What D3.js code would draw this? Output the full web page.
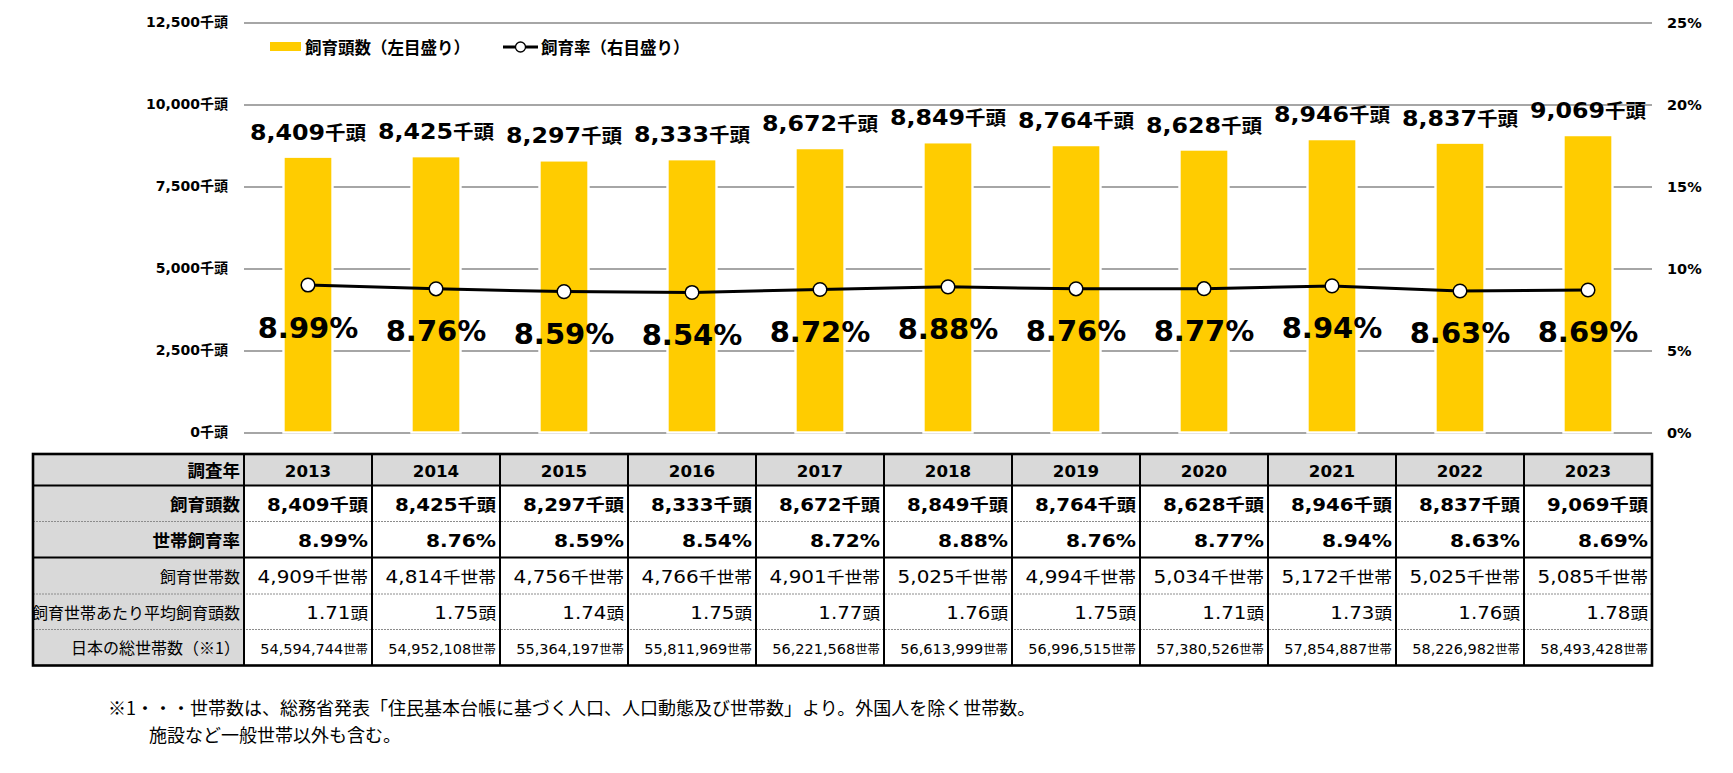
<!DOCTYPE html>
<html><head><meta charset="utf-8">
<script src="https://cdn.jsdelivr.net/npm/d3@7"></script>
<style>body{margin:0;background:#fff;overflow:hidden}</style>
</head><body>
<svg id="c" width="1733" height="773"></svg>
<script>
// ---------- data ----------
const years = ["2013","2014","2015","2016","2017","2018","2019","2020","2021","2022","2023"];
const heads = [8409,8425,8297,8333,8672,8849,8764,8628,8946,8837,9069];           // 千頭
const rates = [8.99,8.76,8.59,8.54,8.72,8.88,8.76,8.77,8.94,8.63,8.69];           // %
const households = [4909,4814,4756,4766,4901,5025,4994,5034,5172,5025,5085];     // 千世帯
const avgHeads = [1.71,1.75,1.74,1.75,1.77,1.76,1.75,1.71,1.73,1.76,1.78];        // 頭
const totalHouseholds = [54594744,54952108,55364197,55811969,56221568,56613999,56996515,57380526,57854887,58226982,58493428];
const leftTicks = [0,2500,5000,7500,10000,12500];
const rightTicks = [0,5,10,15,20,25];
const seriesNames = ["飼育頭数（左目盛り）","飼育率（右目盛り）"];
const rowLabels = ["調査年","飼育頭数","世帯飼育率","飼育世帯数","飼育世帯あたり平均飼育頭数","日本の総世帯数（※1）"];
const footnotes = ["※1・・・世帯数は、総務省発表「住民基本台帳に基づく人口、人口動態及び世帯数」より。外国人を除く世帯数。","施設など一般世帯以外も含む。"];

// ---------- setup ----------
const LAT = "'DejaVu Sans','Noto Sans CJK JP',sans-serif";
const CJK = "'Noto Sans CJK JP','DejaVu Sans',sans-serif";
const YELLOW = "#FFCC00";
const svg = d3.select("#c");
svg.append("rect").attr("width",1733).attr("height",773).attr("fill","#fff");

const plotL = 244, plotR = 1652, plotT = 22.5, plotB = 432.5;
const x = d3.scaleBand().domain(years).range([plotL,plotR]).paddingInner(0.617).paddingOuter(0.3085);
const xCol = d3.scaleBand().domain(years).range([plotL,plotR]).padding(0);
const yL = d3.scaleLinear().domain([0,12500]).range([plotB,plotT]);
const yR = d3.scaleLinear().domain([0,25]).range([plotB,plotT]);
const fmt = d3.format(",");

// helper: text made of parts (tspans), with optional horizontal stretch
function label(g, px, py, parts, opt){
  const t = g.append("text")
    .attr("transform",`translate(${px},${py}) scale(${opt.sx||1},1)`)
    .attr("text-anchor",opt.anchor||"start")
    .attr("font-weight",opt.weight||"normal")
    .attr("fill","#000");
  parts.forEach(p=>{
    t.append("tspan").attr("font-family",p.f||LAT).attr("font-size",p.s).text(p.t);
  });
  return t;
}

// ---------- axes / gridlines ----------
const gL = svg.append("g").attr("transform",`translate(${plotL},0)`)
  .call(d3.axisLeft(yL).tickValues(leftTicks).tickSize(-(plotR-plotL)).tickPadding(16)
        .tickFormat(d=>fmt(d)+"千頭"));
gL.select(".domain").remove();
gL.selectAll(".tick line").attr("stroke","#a6a6a6").attr("stroke-width",1.8);
gL.selectAll(".tick text").attr("font-family",LAT).attr("font-size",14).attr("font-weight","bold").attr("fill","#000");

const gR = svg.append("g").attr("transform",`translate(${plotR},0)`)
  .call(d3.axisRight(yR).tickValues(rightTicks).tickSize(0).tickPadding(15)
        .tickFormat(d=>d+"%"));
gR.select(".domain").remove();
gR.selectAll(".tick text").attr("font-family",LAT).attr("font-size",14.5).attr("font-weight","bold").attr("fill","#000");

// ---------- bars ----------
svg.append("g").selectAll("rect").data(years).join("rect")
  .attr("x",d=>x(d)).attr("width",x.bandwidth())
  .attr("y",(d,i)=>yL(heads[i])).attr("height",(d,i)=>yL(0)-yL(heads[i]))
  .attr("fill",YELLOW).attr("stroke","#fff").attr("stroke-width",2.4);

// bar value labels
const gBL = svg.append("g");
years.forEach((d,i)=>{
  label(gBL, x(d)+x.bandwidth()/2, yL(heads[i])-17,
    [{t:fmt(heads[i]),s:22},{t:"千頭",s:19,f:CJK}],{anchor:"middle",weight:"bold",sx:1.08});
});

// ---------- line ----------
const line = d3.line().x((d,i)=>x(years[i])+x.bandwidth()/2).y(d=>yR(d));
svg.append("path").datum(rates).attr("d",line).attr("fill","none").attr("stroke","#000").attr("stroke-width",3);
svg.append("g").selectAll("circle").data(rates).join("circle")
  .attr("cx",(d,i)=>x(years[i])+x.bandwidth()/2).attr("cy",d=>yR(d)).attr("r",6.8)
  .attr("fill","#fff").attr("stroke","#000").attr("stroke-width",1.5);

// rate labels
svg.append("g").selectAll("text").data(rates).join("text")
  .attr("x",(d,i)=>x(years[i])+x.bandwidth()/2).attr("y",d=>yR(d)+52.5)
  .attr("text-anchor","middle").attr("font-family",LAT).attr("font-size",29).attr("font-weight","bold")
  .attr("fill","#000").text(d=>d.toFixed(2)+"%");

// ---------- legend ----------
const lg = svg.append("g");
lg.append("rect").attr("x",270).attr("y",42).attr("width",31).attr("height",9).attr("fill",YELLOW);
lg.append("text").attr("x",305).attr("y",53.5).attr("font-family",CJK).attr("font-size",16.5)
  .attr("font-weight","bold").text(seriesNames[0]);
lg.append("line").attr("x1",503).attr("x2",538).attr("y1",47).attr("y2",47).attr("stroke","#000").attr("stroke-width",3);
lg.append("circle").attr("cx",520.5).attr("cy",47).attr("r",5).attr("fill","#fff").attr("stroke","#000").attr("stroke-width",1.3);
lg.append("text").attr("x",541).attr("y",53.5).attr("font-family",CJK).attr("font-size",16.5)
  .attr("font-weight","bold").text(seriesNames[1]);

// ---------- table ----------
const tL = 33;
const rowY = [454,485.5,521.5,557.5,594,629.5,665.5];
const tb = svg.append("g");
tb.append("rect").attr("x",tL).attr("y",rowY[0]).attr("width",plotL-tL).attr("height",rowY[6]-rowY[0]).attr("fill","#d9d9d9");
tb.append("rect").attr("x",plotL).attr("y",rowY[0]).attr("width",plotR-plotL).attr("height",rowY[1]-rowY[0]).attr("fill","#d9d9d9");

// dotted separators
[2,4,5].forEach(r=>{
  tb.append("line").attr("x1",tL).attr("x2",plotR).attr("y1",rowY[r]).attr("y2",rowY[r])
    .attr("stroke","#8c8c8c").attr("stroke-width",1).attr("stroke-dasharray","2,1");
});
// solid separators
[1,3].forEach(r=>{
  tb.append("line").attr("x1",tL).attr("x2",plotR).attr("y1",rowY[r]).attr("y2",rowY[r])
    .attr("stroke","#000").attr("stroke-width",2);
});
// vertical lines
[plotL].concat(years.slice(1).map(d=>xCol(d))).forEach(v=>{
  tb.append("line").attr("x1",v).attr("x2",v).attr("y1",rowY[0]).attr("y2",rowY[6])
    .attr("stroke","#000").attr("stroke-width",2);
});
tb.append("rect").attr("x",tL).attr("y",rowY[0]).attr("width",plotR-tL).attr("height",rowY[6]-rowY[0])
  .attr("fill","none").attr("stroke","#000").attr("stroke-width",2.6);

// row labels
rowLabels.forEach((lab,r)=>{
  const mid = (rowY[r]+rowY[r+1])/2;
  const bold = r<3;
  const s = bold?17.5:16;
  tb.append("text").attr("x",plotL-4).attr("y",mid+0.36*s+1).attr("text-anchor","end")
    .attr("font-family",CJK).attr("font-size",s).attr("font-weight",bold?"bold":"normal").text(lab);
});

// cell values
const rowsParts = [
  i=>({parts:[{t:years[i],s:16}],bold:true,sx:1.04,center:true,s:16}),
  i=>({parts:[{t:fmt(heads[i]),s:18},{t:"千頭",s:17.5,f:CJK}],bold:true,sx:1.1,s:18}),
  i=>({parts:[{t:rates[i].toFixed(2)+"%",s:18}],bold:true,sx:1.12,s:18}),
  i=>({parts:[{t:fmt(households[i]),s:18},{t:"千世帯",s:16,f:CJK}],bold:false,sx:1.11,s:17}),
  i=>({parts:[{t:avgHeads[i].toFixed(2),s:18},{t:"頭",s:16,f:CJK}],bold:false,sx:1.1,s:17}),
  i=>({parts:[{t:fmt(totalHouseholds[i]),s:14},{t:"世帯",s:12,f:CJK}],bold:false,sx:1.035,s:14})
];
rowsParts.forEach((fn,r)=>{
  const mid = (rowY[r]+rowY[r+1])/2;
  years.forEach((d,i)=>{
    const o = fn(i);
    const px = o.center ? xCol(d)+xCol.bandwidth()/2 : xCol(d)+xCol.bandwidth()-4;
    label(tb, px, mid+0.36*o.s+1, o.parts, {anchor:o.center?"middle":"end", weight:o.bold?"bold":"normal", sx:o.sx});
  });
});

// ---------- footnote ----------
svg.append("text").attr("x",108).attr("y",715).attr("font-family",CJK).attr("font-size",18).text(footnotes[0]);
svg.append("text").attr("x",149).attr("y",741.5).attr("font-family",CJK).attr("font-size",18).text(footnotes[1]);
</script>
</body></html>
